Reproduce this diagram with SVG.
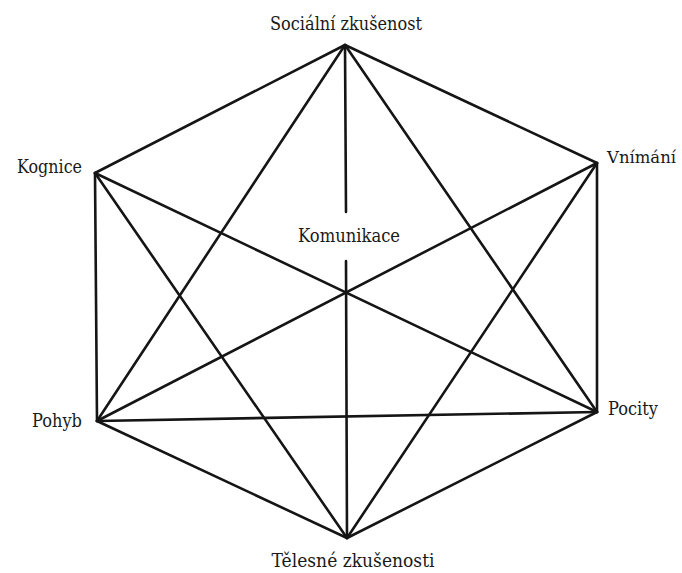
<svg xmlns="http://www.w3.org/2000/svg" width="682" height="573" viewBox="0 0 682 573">
<style>
.e{stroke:#151515;stroke-width:2.6;stroke-linecap:round;fill:none}
.t{font-family:'DejaVu Serif','Liberation Serif',serif;font-size:18px;fill:#1a1a1a}
</style>
<rect width="682" height="573" fill="#ffffff"/>
<g id="connectors">
<line class="e" x1="345" y1="45" x2="95" y2="173"/>
<line class="e" x1="345" y1="45" x2="597" y2="163"/>
<line class="e" x1="345" y1="45" x2="97" y2="421"/>
<line class="e" x1="345" y1="45" x2="597" y2="412"/>
<line class="e" x1="345" y1="45" x2="346" y2="212"/>
<line class="e" x1="346" y1="261" x2="347" y2="538"/>
<line class="e" x1="95" y1="173" x2="97" y2="421"/>
<line class="e" x1="95" y1="173" x2="597" y2="412"/>
<line class="e" x1="95" y1="173" x2="347" y2="538"/>
<line class="e" x1="597" y1="163" x2="597" y2="412"/>
<line class="e" x1="597" y1="163" x2="97" y2="421"/>
<line class="e" x1="597" y1="163" x2="347" y2="538"/>
<line class="e" x1="97" y1="421" x2="597" y2="412"/>
<line class="e" x1="97" y1="421" x2="347" y2="538"/>
<line class="e" x1="597" y1="412" x2="347" y2="538"/>
</g>
<g id="n-socialni"><text class="t" x="346" y="30" text-anchor="middle" textLength="152" lengthAdjust="spacingAndGlyphs">Sociální zkušenost</text></g>
<g id="n-vnimani"><text class="t" x="607" y="163" font-size="16" style="font-size:16px" textLength="69" lengthAdjust="spacingAndGlyphs">Vnímání</text></g>
<g id="n-pocity"><text class="t" x="608" y="415" textLength="50" lengthAdjust="spacingAndGlyphs">Pocity</text></g>
<g id="n-telesne"><text class="t" x="353" y="567" text-anchor="middle" textLength="163" lengthAdjust="spacingAndGlyphs">Tělesné zkušenosti</text></g>
<g id="n-pohyb"><text class="t" x="82" y="427" text-anchor="end" textLength="50" lengthAdjust="spacingAndGlyphs">Pohyb</text></g>
<g id="n-kognice"><text class="t" x="82" y="173" text-anchor="end" textLength="65" lengthAdjust="spacingAndGlyphs">Kognice</text></g>
<g id="n-komunikace"><text class="t" x="349" y="242" text-anchor="middle" textLength="102" lengthAdjust="spacingAndGlyphs">Komunikace</text></g>
</svg>
